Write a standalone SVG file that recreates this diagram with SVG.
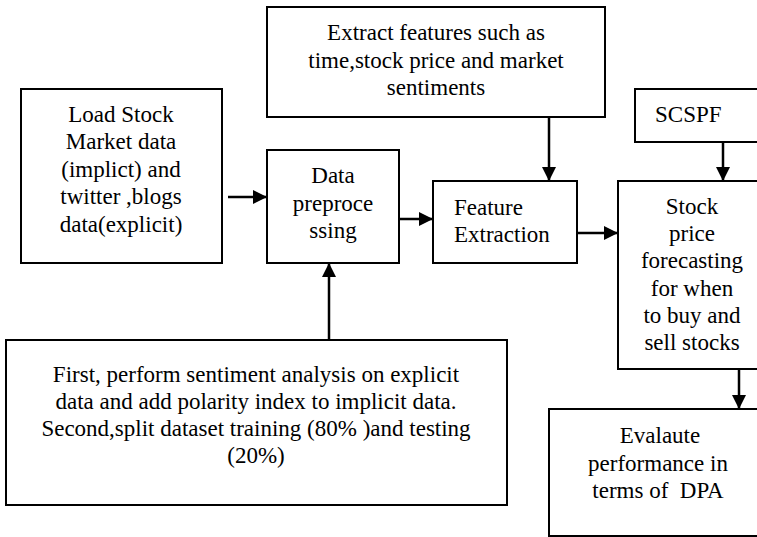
<svg xmlns="http://www.w3.org/2000/svg" width="757" height="537" viewBox="0 0 757 537">
<defs>
<style>
.box{fill:#fff;stroke:#000;stroke-width:2}
.t{font-family:'Liberation Serif','Times New Roman',serif;font-size:23px;fill:#000}
.c{text-anchor:middle}
.edge{stroke:#000;stroke-width:2.5;fill:none;marker-end:url(#ah)}
</style>
<marker id="ah" markerUnits="userSpaceOnUse" markerWidth="16" markerHeight="14" refX="14" refY="7" orient="auto">
<path d="M0,0 L14,7 L0,14 Z" fill="#000"/>
</marker>
</defs>
<rect width="757" height="537" fill="#fff"/>
<g id="load">
<rect class="box" x="21" y="89" width="201" height="174"/>
<text class="t c" x="121" y="122">Load Stock</text>
<text class="t c" x="121" y="149">Market data</text>
<text class="t c" x="121" y="177">(implict) and</text>
<text class="t c" x="121" y="204">twitter ,blogs</text>
<text class="t c" x="121" y="232">data(explicit)</text>
</g>
<g id="extract">
<rect class="box" x="267" y="7" width="338" height="110"/>
<text class="t c" x="436" y="40">Extract features such as</text>
<text class="t c" x="436" y="68">time,stock price and market</text>
<text class="t c" x="436" y="95">sentiments</text>
</g>
<g id="data">
<rect class="box" x="267" y="150" width="132" height="113"/>
<text class="t c" x="333" y="183">Data</text>
<text class="t c" x="333" y="211">preproce</text>
<text class="t c" x="333" y="238">ssing</text>
</g>
<g id="feature">
<rect class="box" x="433" y="181" width="144" height="82"/>
<text class="t" x="454" y="215">Feature</text>
<text class="t" x="454" y="242">Extraction</text>
</g>
<g id="scspf">
<rect class="box" x="635" y="89" width="140" height="53"/>
<text class="t" x="655" y="122">SCSPF</text>
</g>
<g id="stock">
<rect class="box" x="618" y="181" width="150" height="188"/>
<text class="t c" x="692" y="214">Stock</text>
<text class="t c" x="692" y="241">price</text>
<text class="t c" x="692" y="268">forecasting</text>
<text class="t c" x="692" y="296">for when</text>
<text class="t c" x="692" y="323">to buy and</text>
<text class="t c" x="692" y="350">sell stocks</text>
</g>
<g id="split">
<rect class="box" x="6" y="340" width="501" height="165"/>
<text class="t c" x="256" y="382">First, perform sentiment analysis on explicit</text>
<text class="t c" x="256" y="409">data and add polarity index to implicit data.</text>
<text class="t c" x="256" y="436">Second,split dataset training (80% )and testing</text>
<text class="t c" x="256" y="463">(20%)</text>
</g>
<g id="evaluate">
<rect class="box" x="549" y="409" width="218" height="127"/>
<text class="t c" x="660" y="443">Evalaute</text>
<text class="t c" x="658" y="471">performance in</text>
<text class="t c" x="658" y="498" xml:space="preserve">terms of  DPA</text>
</g>
<g id="connectors">
<line class="edge" x1="228" y1="197" x2="267" y2="197"/>
<line class="edge" x1="399" y1="219" x2="433" y2="219"/>
<line class="edge" x1="577" y1="233" x2="618" y2="233"/>
<line class="edge" x1="549" y1="117" x2="549" y2="181"/>
<line class="edge" x1="723" y1="142" x2="723" y2="181"/>
<line class="edge" x1="739" y1="369" x2="739" y2="409"/>
<line class="edge" x1="329" y1="340" x2="329" y2="263"/>
</g>
</svg>
